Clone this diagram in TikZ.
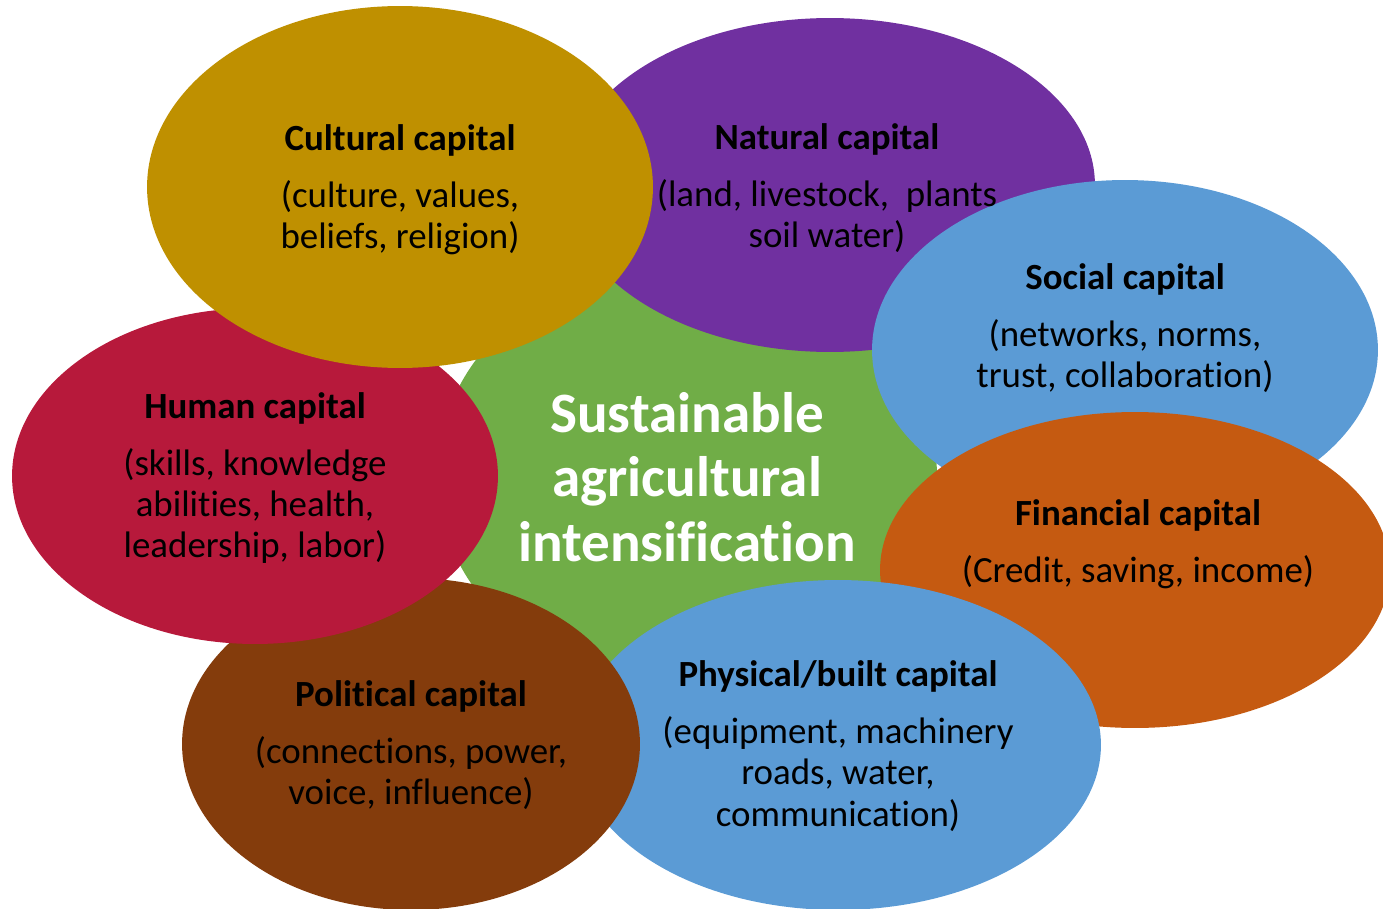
\documentclass[tikz,border=0pt]{standalone}
\usepackage{fontspec}
\setmainfont{Carlito}[Ligatures=NoCommon]
\usetikzlibrary{shapes.geometric}
\definecolor{intensegreen}{HTML}{70AD47}
\definecolor{culturegold}{HTML}{BF9000}
\definecolor{naturepurple}{HTML}{7030A0}
\definecolor{capitalblue}{HTML}{5B9BD5}
\definecolor{financeorange}{HTML}{C55A11}
\definecolor{politicsbrown}{HTML}{843C0C}
\definecolor{humancrimson}{HTML}{B7193B}
\tikzset{
  capital/.style={ellipse, inner sep=0pt, outer sep=0pt},
  capitaltext/.style={align=center, font=\fontsize{21}{23.5}\selectfont}
}

\begin{document}
\begin{tikzpicture}[x=0.02cm, y=-0.02cm]
    \useasboundingbox (0,0) rectangle (1383,909);

    \node[capital, fill=intensegreen, minimum width=10cm, minimum height=8.6cm] (centre) at (687,475) {};
    \node[capital, fill=naturepurple, minimum width=10.6cm, minimum height=6.68cm] (natural) at (830,185) {};
    \node[capital, fill=capitalblue, minimum width=10.12cm, minimum height=6.8cm] (social) at (1125,350) {};
    \node[capital, fill=financeorange, minimum width=10.2cm, minimum height=6.32cm] (financial) at (1135,570) {};
    \node[capital, fill=capitalblue, minimum width=10.52cm, minimum height=6.6cm] (physical) at (838,745) {};
    \node[capital, fill=politicsbrown, minimum width=9.16cm, minimum height=6.64cm] (political) at (411,744) {};
    \node[capital, fill=humancrimson, minimum width=9.72cm, minimum height=6.72cm] (human) at (255,476) {};
    \node[capital, fill=culturegold, minimum width=10.12cm, minimum height=7.24cm] (cultural) at (400,187) {};

    \node[align=center, text=white, font=\fontsize{32.5}{36.8}\selectfont\bfseries] (centretext) at (687,477) {Sustainable\\agricultural\\intensification};

    \node[capitaltext] (culturaltext) at (400,190) {\textbf{Cultural capital}\\[8.8pt](culture, values,\\beliefs, religion)};
    \node[capitaltext] (naturaltext) at (827,188) {\textbf{Natural capital}\\[8.8pt](land, livestock,\ \ plants\\soil water)};
    \node[capitaltext] (socialtext) at (1125,328.5) {\textbf{Social capital}\\[8.8pt](networks, norms,\\trust, collaboration)};
    \node[capitaltext] (humantext) at (255,478) {\textbf{Human capital}\\[8.8pt](skills, knowledge\\abilities, health,\\leadership, labor)};
    \node[capitaltext] (financialtext) at (1138,544) {\textbf{Financial capital}\\[8.8pt](Credit, saving, income)};
    \node[capitaltext] (politicaltext) at (411,745) {\textbf{Political capital}\\[8.8pt](connections, power,\\voice, influence)};
    \node[capitaltext] (physicaltext) at (838,746) {\textbf{Physical/built capital}\\[8.8pt](equipment, machinery\\roads, water,\\communication)};
\end{tikzpicture}
\end{document}
